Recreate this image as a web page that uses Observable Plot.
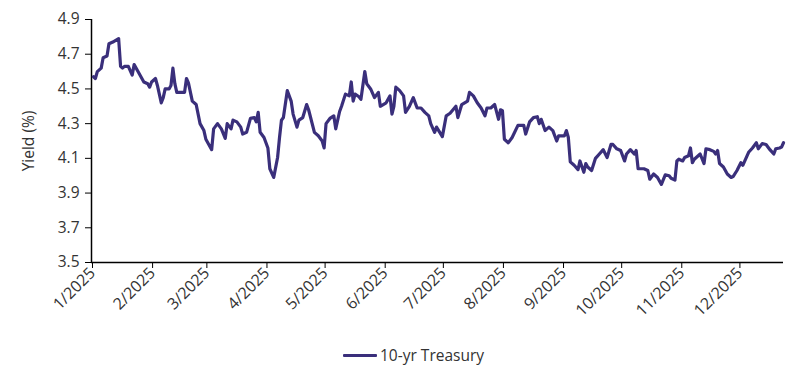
<!DOCTYPE html>
<html>
<head>
<meta charset="utf-8">
<script src="https://cdn.jsdelivr.net/npm/d3@7"></script>
<script src="https://cdn.jsdelivr.net/npm/@observablehq/plot@0.6"></script>
<style>
  html, body { margin: 0; padding: 0; background: #fff; }
  body { width: 800px; height: 375px; position: relative; overflow: hidden; font-family: "Open Sans", sans-serif; }
  #legend { position: absolute; left: 343px; top: 344px; display: flex; align-items: center; font-size: 15.5px; color: #333; }
  #legend .sw { width: 34px; height: 3px; background: #3a2f7b; margin-right: 3px; border-radius: 1px; }
</style>
</head>
<body>
<div id="chart"></div>
<div id="legend"><span class="sw"></span><span id="legendLabel"></span></div>
<script>
const seriesName = "10-yr Treasury";
const yLabel = "Yield (%)";
const yTicks = [3.5, 3.7, 3.9, 4.1, 4.3, 4.5, 4.7, 4.9];
const monthTicks = ["2025-01-01","2025-02-01","2025-03-01","2025-04-01","2025-05-01","2025-06-01","2025-07-01","2025-08-01","2025-09-01","2025-10-01","2025-11-01","2025-12-01"];
const xDomain = ["2025-01-01", "2025-12-24"];

const dates = [
"2025-01-02","2025-01-03","2025-01-04","2025-01-06","2025-01-07","2025-01-09","2025-01-10","2025-01-12","2025-01-15","2025-01-16",
"2025-01-17","2025-01-18","2025-01-20","2025-01-22","2025-01-23","2025-01-25","2025-01-28","2025-01-30","2025-01-31","2025-02-01",
"2025-02-03","2025-02-04","2025-02-06","2025-02-07","2025-02-08","2025-02-10","2025-02-11","2025-02-12","2025-02-13","2025-02-14",
"2025-02-16","2025-02-18","2025-02-19","2025-02-20","2025-02-22","2025-02-24","2025-02-26","2025-02-28","2025-03-01","2025-03-04",
"2025-03-05","2025-03-07","2025-03-09","2025-03-11","2025-03-12","2025-03-14","2025-03-15","2025-03-17","2025-03-19","2025-03-20",
"2025-03-22","2025-03-24","2025-03-26","2025-03-27","2025-03-28","2025-03-29","2025-03-31","2025-04-02","2025-04-03","2025-04-05",
"2025-04-07","2025-04-08","2025-04-09","2025-04-10","2025-04-12","2025-04-14","2025-04-15","2025-04-17","2025-04-18","2025-04-20",
"2025-04-22","2025-04-23","2025-04-26","2025-04-28","2025-04-30","2025-05-01","2025-05-02","2025-05-04","2025-05-06","2025-05-07",
"2025-05-09","2025-05-10","2025-05-12","2025-05-14","2025-05-15","2025-05-16","2025-05-17","2025-05-19","2025-05-20","2025-05-22",
"2025-05-23","2025-05-25","2025-05-27","2025-05-29","2025-05-30","2025-06-02","2025-06-04","2025-06-05","2025-06-06","2025-06-07",
"2025-06-09","2025-06-11","2025-06-12","2025-06-14","2025-06-16","2025-06-18","2025-06-20","2025-06-22","2025-06-24","2025-06-25",
"2025-06-27","2025-06-28","2025-07-01","2025-07-03","2025-07-05","2025-07-08","2025-07-09","2025-07-11","2025-07-14","2025-07-15",
"2025-07-17","2025-07-19","2025-07-21","2025-07-23","2025-07-24","2025-07-26","2025-07-28","2025-07-30","2025-07-31","2025-08-01",
"2025-08-02","2025-08-04","2025-08-06","2025-08-09","2025-08-12","2025-08-13","2025-08-15","2025-08-17","2025-08-19","2025-08-20",
"2025-08-21","2025-08-23","2025-08-25","2025-08-27","2025-08-29","2025-08-30","2025-09-02","2025-09-03","2025-09-04","2025-09-05",
"2025-09-07","2025-09-09","2025-09-10","2025-09-12","2025-09-13","2025-09-14","2025-09-16","2025-09-18","2025-09-20","2025-09-22",
"2025-09-24","2025-09-26","2025-09-27","2025-09-29","2025-10-01","2025-10-03","2025-10-04","2025-10-06","2025-10-08","2025-10-09",
"2025-10-10","2025-10-13","2025-10-15","2025-10-16","2025-10-18","2025-10-20","2025-10-22","2025-10-24","2025-10-26","2025-10-27",
"2025-10-29","2025-10-30","2025-10-31","2025-11-02","2025-11-03","2025-11-05","2025-11-06","2025-11-07","2025-11-08","2025-11-11",
"2025-11-13","2025-11-14","2025-11-16","2025-11-18","2025-11-19","2025-11-20","2025-11-21","2025-11-23","2025-11-25","2025-11-27",
"2025-11-28","2025-11-30","2025-12-02","2025-12-03","2025-12-06","2025-12-08","2025-12-10","2025-12-11","2025-12-13","2025-12-15",
"2025-12-17","2025-12-19","2025-12-20","2025-12-22","2025-12-23","2025-12-24"
];

const yields = [
4.57,4.56,4.60,4.62,4.68,4.69,4.76,4.77,4.79,4.63,
4.62,4.63,4.63,4.58,4.64,4.60,4.54,4.53,4.51,4.54,
4.56,4.52,4.42,4.45,4.50,4.50,4.52,4.62,4.53,4.48,
4.48,4.48,4.56,4.535,4.43,4.41,4.30,4.26,4.21,4.15,
4.27,4.30,4.27,4.215,4.30,4.27,4.32,4.31,4.28,4.24,
4.25,4.33,4.335,4.31,4.365,4.25,4.22,4.16,4.04,3.99,
4.105,4.22,4.32,4.335,4.49,4.43,4.355,4.28,4.32,4.335,
4.41,4.38,4.25,4.23,4.20,4.16,4.30,4.33,4.345,4.27,
4.37,4.40,4.47,4.46,4.54,4.43,4.47,4.455,4.44,4.60,
4.53,4.50,4.45,4.48,4.40,4.42,4.46,4.355,4.40,4.51,
4.49,4.46,4.365,4.40,4.45,4.39,4.39,4.365,4.345,4.30,
4.25,4.28,4.225,4.345,4.36,4.40,4.335,4.41,4.43,4.48,
4.46,4.42,4.39,4.345,4.39,4.39,4.41,4.325,4.38,4.375,
4.21,4.19,4.22,4.29,4.29,4.24,4.31,4.335,4.34,4.30,
4.325,4.26,4.28,4.26,4.20,4.23,4.23,4.26,4.22,4.08,
4.06,4.035,4.085,4.02,4.07,4.05,4.03,4.10,4.125,4.15,
4.105,4.18,4.18,4.155,4.145,4.085,4.125,4.15,4.125,4.145,
4.04,4.04,4.03,3.98,4.01,3.99,3.95,4.005,4.00,3.985,
3.975,4.085,4.095,4.085,4.105,4.115,4.16,4.075,4.095,4.125,
4.07,4.155,4.15,4.14,4.125,4.145,4.07,4.05,4.01,3.99,
3.995,4.03,4.075,4.06,4.135,4.16,4.19,4.155,4.185,4.18,
4.15,4.125,4.155,4.16,4.165,4.19
];

const parse = d3.utcParse("%Y-%m-%d");
const data = dates.map((d, i) => ({date: parse(d), value: yields[i]}));
const ticksX = monthTicks.map(parse);
const lineColor = "#3a2f7b";

const chart = Plot.plot({
  width: 800,
  height: 325,
  marginLeft: 91,
  marginRight: 17,
  marginTop: 19,
  marginBottom: 63,
  style: {fontFamily: "'Open Sans', sans-serif", fontSize: "15px", color: "#333", background: "#fff"},
  x: {type: "utc", domain: xDomain.map(parse)},
  y: {domain: [3.5, 4.9]},
  marks: [
    Plot.axisY({ticks: yTicks, tickFormat: d3.format(".1f"), tickSize: 6, tickPadding: 6, label: null, stroke: "#000", fontSize: 15.5}),
    Plot.axisX({ticks: ticksX, tickFormat: d => `${d.getUTCMonth() + 1}/${d.getUTCFullYear()}`, tickRotate: -45, tickSize: 6, tickPadding: 2, dx: 1, label: null, stroke: "#000", fontSize: 16}),
    Plot.ruleX([parse(xDomain[0])], {stroke: "#000", strokeWidth: 1.5}),
    Plot.ruleY([3.5], {stroke: "#000", strokeWidth: 1.5}),
    Plot.text([yLabel], {frameAnchor: "left", textAnchor: "middle", dx: -62, rotate: -90, fontSize: 15.5, fill: "#333"}),
    Plot.line(data, {x: "date", y: "value", stroke: lineColor, strokeWidth: 3.2, strokeLinejoin: "round", strokeLinecap: "round"})
  ]
});
document.getElementById("chart").appendChild(chart);
document.getElementById("legendLabel").textContent = seriesName;
</script>
</body>
</html>
